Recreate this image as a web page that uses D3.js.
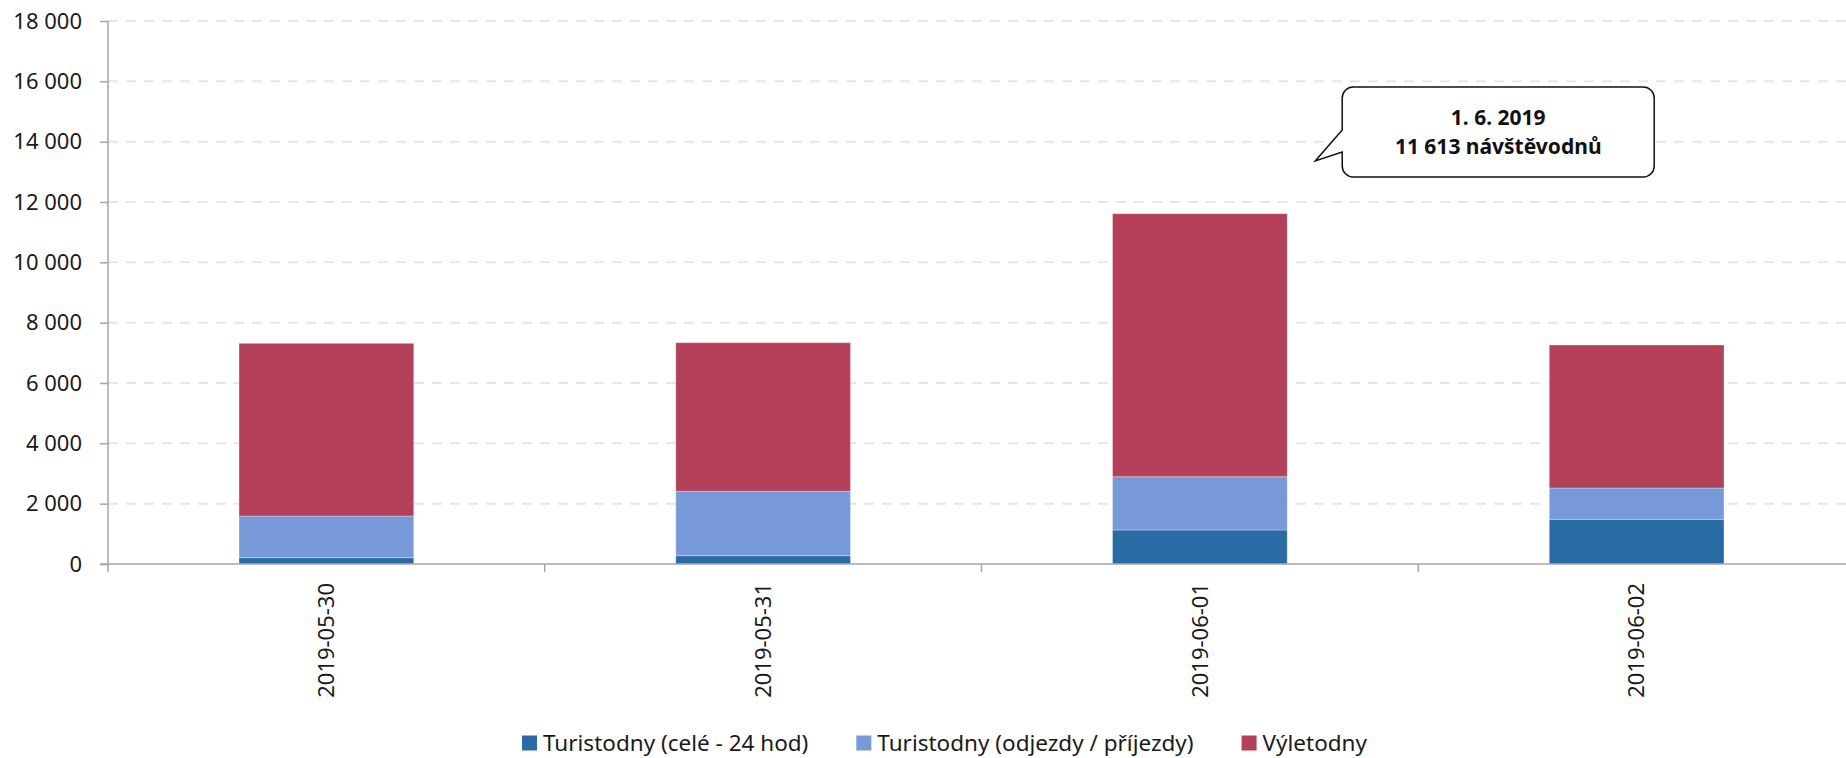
<!DOCTYPE html>
<html>
<head>
<meta charset="utf-8">
<script src="https://cdn.jsdelivr.net/npm/d3@7"></script>
<style>
  html, body { margin: 0; padding: 0; background: #fff; }
  svg { display: block; font-family: "Noto Sans", "Open Sans", sans-serif; }
</style>
</head>
<body>
<svg id="chart" width="1846" height="758"></svg>
<script>
// data
const categories = ['2019-05-30', '2019-05-31', '2019-06-01', '2019-06-02'];
const turistodnyCele = [210, 275, 1127, 1482];
const turistodnyOdjezdy = [1380, 2135, 1767, 1037];
const vyletodny = [5725, 4926, 8719, 4741];
const seriesNames = ['Turistodny (celé - 24 hod)', 'Turistodny (odjezdy / příjezdy)', 'Výletodny'];
const seriesColors = ['#2a6aa5', '#7899d8', '#b44059'];
const yTicks = [0, 2000, 4000, 6000, 8000, 10000, 12000, 14000, 16000, 18000];
const calloutLines = ['1. 6. 2019', '11 613 návštěvodnů'];
const calloutIndex = 2;

const width = 1846;
const height = 758;
const margin = { left: 108, top: 21, bottom: 194 };
const plotRight = 1855; // plot runs a little past the right edge in the original
const plotBottom = height - margin.bottom;

const svg = d3.select('#chart');

const rows = categories.map((c, i) => ({
  cat: c,
  a: turistodnyCele[i],
  b: turistodnyOdjezdy[i],
  c: vyletodny[i]
}));
const keys = ['a', 'b', 'c'];
const stacked = d3.stack().keys(keys)(rows);

const x = d3.scaleBand()
  .domain(categories)
  .range([margin.left, plotRight])
  .paddingInner(0.6)
  .paddingOuter(0.3);

const y = d3.scaleLinear()
  .domain([0, 18000])
  .range([plotBottom, margin.top]);

const fmt = d3.formatLocale({ decimal: ',', thousands: ' ', grouping: [3], currency: ['', ''] }).format(',');

// gridlines
svg.append('g')
  .selectAll('line')
  .data(yTicks.filter(d => d > 0))
  .join('line')
  .attr('x1', margin.left)
  .attr('x2', width)
  .attr('y1', d => y(d))
  .attr('y2', d => y(d))
  .attr('stroke', '#e6e6e6')
  .attr('stroke-width', 2)
  .attr('stroke-dasharray', '10 8');

// bars
svg.append('g')
  .selectAll('g')
  .data(stacked)
  .join('g')
  .attr('fill', (d, i) => seriesColors[i])
  .selectAll('rect')
  .data(d => d)
  .join('rect')
  .attr('x', d => x(d.data.cat))
  .attr('width', x.bandwidth())
  .attr('y', d => y(d[1]))
  .attr('height', d => y(d[0]) - y(d[1]))
  .attr('stroke', 'rgba(255,255,255,0.3)')
  .attr('stroke-width', 1);

// y axis
const yAxis = d3.axisLeft(y)
  .tickValues(yTicks)
  .tickSize(8)
  .tickPadding(18)
  .tickFormat(d => fmt(d));

const gy = svg.append('g')
  .attr('transform', `translate(${margin.left},0)`)
  .call(yAxis);
gy.select('.domain').remove();
gy.append('line')
  .attr('x1', 0).attr('x2', 0)
  .attr('y1', margin.top).attr('y2', plotBottom + 8)
  .attr('stroke', '#a6a6a6').attr('stroke-width', 1.5);
gy.selectAll('.tick line').attr('stroke', '#a6a6a6').attr('stroke-width', 1.5);
gy.selectAll('.tick text')
  .attr('fill', '#1a1a1a')
  .style('font-size', '22px')
  .style('font-family', '"Noto Sans", sans-serif');

// x axis line and band ticks
svg.append('line')
  .attr('x1', margin.left - 8).attr('x2', width)
  .attr('y1', plotBottom).attr('y2', plotBottom)
  .attr('stroke', '#a6a6a6').attr('stroke-width', 1.5);

svg.append('g')
  .selectAll('line')
  .data(categories.slice(1))
  .join('line')
  .attr('x1', d => x(d) - x.step() * x.paddingInner() / 2)
  .attr('x2', d => x(d) - x.step() * x.paddingInner() / 2)
  .attr('y1', plotBottom)
  .attr('y2', plotBottom + 8)
  .attr('stroke', '#a6a6a6').attr('stroke-width', 1.5);

svg.append('g')
  .selectAll('text')
  .data(categories)
  .join('text')
  .attr('transform', d => `translate(${x(d) + x.bandwidth() / 2},${plotBottom + 19}) rotate(-90)`)
  .attr('text-anchor', 'end')
  .attr('dy', '0.35em')
  .attr('fill', '#1a1a1a')
  .style('font-size', '22px')
  .text(d => d);

// callout bubble
const tipX = x(categories[calloutIndex]) + x.bandwidth() + 28;
const tipY = y(13360);
const boxL = tipX + 27, boxR = tipX + 339, boxT = tipY - 74, boxB = tipY + 16, r = 11;
const bubble = d3.path();
bubble.moveTo(boxL + r, boxT);
bubble.lineTo(boxR - r, boxT);
bubble.arcTo(boxR, boxT, boxR, boxT + r, r);
bubble.lineTo(boxR, boxB - r);
bubble.arcTo(boxR, boxB, boxR - r, boxB, r);
bubble.lineTo(boxL + r, boxB);
bubble.arcTo(boxL, boxB, boxL, boxB - r, r);
bubble.lineTo(boxL, tipY - 9);
bubble.lineTo(tipX, tipY);
bubble.lineTo(boxL, tipY - 31);
bubble.lineTo(boxL, boxT + r);
bubble.arcTo(boxL, boxT, boxL + r, boxT, r);
bubble.closePath();

svg.append('path')
  .attr('d', bubble.toString())
  .attr('fill', '#fff')
  .attr('stroke', '#111')
  .attr('stroke-width', 1.5);

svg.append('g')
  .selectAll('text')
  .data(calloutLines)
  .join('text')
  .attr('x', (boxL + boxR) / 2)
  .attr('y', (d, i) => boxT + 38 + i * 29.5)
  .attr('text-anchor', 'middle')
  .attr('fill', '#111')
  .style('font-size', '21px')
  .style('font-weight', 'bold')
  .text(d => d);

// legend
const legend = svg.append('g');
const items = legend.selectAll('g')
  .data(seriesNames)
  .join('g');
items.append('rect')
  .attr('width', 15).attr('height', 15)
  .attr('y', -7.5)
  .attr('fill', (d, i) => seriesColors[i]);
items.append('text')
  .attr('x', 21)
  .attr('dy', '0.35em')
  .attr('fill', '#1a1a1a')
  .style('font-size', '22.5px')
  .text(d => d);

let offset = 0;
items.each(function () {
  const w = this.querySelector('text').getComputedTextLength();
  d3.select(this).attr('data-x', offset);
  offset += 21 + w + 48;
});
const legendWidth = offset - 48;
const legendStart = 944.5 - legendWidth / 2;
items.attr('transform', function () {
  return `translate(${legendStart + (+this.getAttribute('data-x'))},743)`;
});
</script>
</body>
</html>
